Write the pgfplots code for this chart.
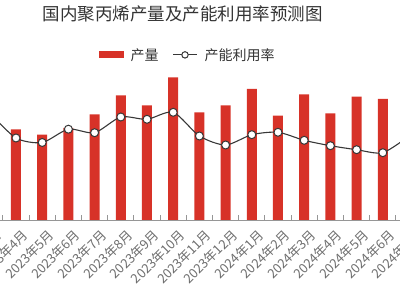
\documentclass[border=0pt]{standalone}
\usepackage{pgfplots}
\pgfplotsset{compat=1.18}
\usepackage{fontspec}
\setmainfont{Noto Sans CJK SC}
\definecolor{barred}{RGB}{215,50,40}
\definecolor{linegray}{RGB}{55,55,55}
\definecolor{axgray}{RGB}{150,150,150}
\definecolor{txtgray}{RGB}{110,110,110}
\definecolor{titlegray}{RGB}{51,51,51}
\begin{document}
\begin{tikzpicture}
\useasboundingbox (0,0) rectangle (400pt,300pt);
\clip (0,0) rectangle (400pt,300pt);
\begin{axis}[
  at={(-23.3pt,80pt)}, anchor=south west,
  scale only axis, width=471.6pt, height=160pt,
  xmin=-1.5, xmax=16.5, ymin=0, ymax=160,
  axis x line*=bottom, axis y line=none,
  x axis line style={draw=axgray, line width=0.8pt},
  xtick={-1,0,...,15},
  xticklabels={2023年3月,2023年4月,2023年5月,2023年6月,2023年7月,2023年8月,2023年9月,2023年10月,2023年11月,2023年12月,2024年1月,2024年2月,2024年3月,2024年4月,2024年5月,2024年6月,2024年7月},
  minor xtick={-1.5,-0.5,...,15.5},
  major tick length=0pt, minor tick length=5pt, tick align=inside,
  every tick/.style={draw=axgray, line width=0.8pt},
  xticklabel style={rotate=45, anchor=north east, inner sep=1pt, yshift=-8pt, xshift=-1pt, font=\fontsize{13pt}{15pt}\selectfont, text=txtgray},
  ytick=\empty,
  title={国内聚丙烯产量及产能利用率预测图},
  title style={at={(0.4364,1.248)}, anchor=center, font=\fontsize{17.5pt}{20pt}\selectfont, text=titlegray},
  legend columns=2,
  legend style={at={(0.447,1.032)}, anchor=center, draw=none, fill=none,
    font=\fontsize{14pt}{16pt}\selectfont, text=titlegray,
    /tikz/every odd column/.append style={column sep=5pt},
    /tikz/every even column/.append style={column sep=12pt}},
  clip=true,
]
\addplot[ybar, bar width=10pt, fill=barred, draw=none,
  legend image code/.code={\fill[barred] (0pt,-3.5pt) rectangle (25pt,3.5pt);}]
  coordinates {(-1,95) (0,90.7) (1,85.3) (2,92) (3,105.7) (4,124.7) (5,114.7) (6,142.7) (7,107.7) (8,114.7) (9,131) (10,104.3) (11,125.7) (12,106.7) (13,123.3) (14,121) (15,118)};
\addlegendentry{产量}
\addplot[linegray, line width=1.1pt, smooth, tension=0.45,
  mark=*, mark size=4pt, mark options={fill=white, draw=linegray, line width=1pt},
  legend image code/.code={\draw[linegray, line width=1pt] (0pt,0pt) -- (24pt,0pt); \draw[linegray, fill=white, line width=1pt] (12pt,0pt) circle (3.2pt);}]
  coordinates {(-1,107) (0,82) (1,77.5) (2,90.8) (3,87.3) (4,103) (5,100.7) (6,107.7) (7,84) (8,75) (9,85.3) (10,87.7) (11,79.7) (12,74.3) (13,70.3) (14,67.3) (15,84)};
\addlegendentry{产能利用率}
\end{axis}
\end{tikzpicture}
\end{document}
